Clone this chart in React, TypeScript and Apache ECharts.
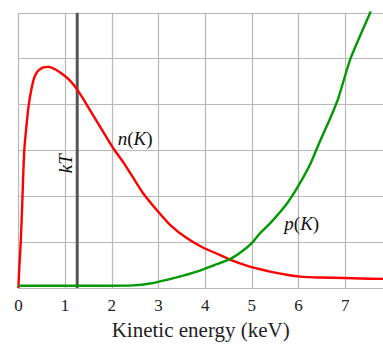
import React, { useEffect, useRef } from "react";
import * as echarts from "echarts";

const xTicks = [0, 1, 2, 3, 4, 5, 6, 7];
const nK: [number, number][] = [
  [0, 0], [0.02, 0.45], [0.049, 0.98], [0.07, 1.5], [0.09, 2.05], [0.108, 2.6], [0.126, 3.0],
  [0.15, 3.3], [0.178, 3.59], [0.21, 3.9], [0.249, 4.17], [0.319, 4.52], [0.37, 4.66],
  [0.426, 4.74], [0.534, 4.81], [0.641, 4.82], [0.784, 4.77], [0.962, 4.65], [1.106, 4.52],
  [1.249, 4.34], [1.427, 4.06], [1.641, 3.7], [1.855, 3.34], [2.05, 3.02], [2.248, 2.74],
  [2.462, 2.4], [2.676, 2.06], [2.963, 1.7], [3.248, 1.38], [3.606, 1.09], [3.962, 0.88],
  [4.32, 0.72], [4.53, 0.62], [4.89, 0.49], [5.18, 0.41], [5.39, 0.36], [5.75, 0.29],
  [6.03, 0.25], [6.46, 0.23], [6.98, 0.22], [7.32, 0.21], [7.81, 0.2],
];
const pK: [number, number][] = [
  [0, 0.05], [1.75, 0.05], [2.46, 0.06], [2.82, 0.1], [3.18, 0.18], [3.53, 0.27],
  [3.89, 0.38], [4.25, 0.52], [4.53, 0.63], [4.75, 0.77], [5.0, 0.98], [5.18, 1.2],
  [5.39, 1.41], [5.75, 1.84], [5.98, 2.2], [6.25, 2.7], [6.46, 3.2], [6.68, 3.7],
  [6.85, 4.13], [7.11, 4.99], [7.53, 5.99], [7.65, 6.3],
];
const kT = 1.26;
const yMax = 6;
const xMax = 7.81;

export default function App() {
  const ref = useRef<HTMLDivElement>(null);
  useEffect(() => {
    if (!ref.current) return;
    const chart = echarts.init(ref.current, undefined, { renderer: "svg" });
    const serif = "Liberation Serif";
    const labelRich = {
      i: { fontFamily: serif, fontStyle: "italic", fontSize: 19, color: "#111" },
      r: { fontFamily: serif, fontSize: 19, color: "#111" },
    };
    chart.setOption({
      animation: false,
      grid: { left: 18.4, right: 0, top: 12.75, bottom: 52.4 },
      xAxis: {
        type: "value",
        min: 0,
        max: xMax,
        interval: 1,
        name: "Kinetic energy (keV)",
        nameLocation: "middle",
        nameGap: 30,
        nameTextStyle: { fontFamily: serif, fontSize: 21, color: "#222" },
        axisLine: { show: false },
        axisTick: { show: false },
        axisLabel: {
          fontFamily: serif,
          fontSize: 17,
          color: "#222",
          margin: 9,
          showMaxLabel: false,
          formatter: (v: number) => (xTicks.includes(v) ? String(v) : ""),
        },
        splitLine: { show: true, showMaxLine: false, lineStyle: { color: "#b8b8b8", width: 1.2 } },
      },
      yAxis: {
        type: "value",
        min: 0,
        max: yMax,
        interval: 1,
        axisLine: { show: false },
        axisTick: { show: false },
        axisLabel: { show: false },
        splitLine: { show: true, lineStyle: { color: "#b8b8b8", width: 1.2 } },
      },
      series: [
        {
          type: "line",
          data: [[kT, 0], [kT, yMax]],
          showSymbol: false,
          lineStyle: { color: "#555555", width: 3 },
          silent: true,
          markPoint: {
            symbol: "circle",
            symbolSize: 0,
            data: [{ coord: [1.0, 2.71] }],
            label: {
              show: true,
              position: "inside",
              rotate: 90,
              formatter: "kT",
              fontFamily: serif,
              fontStyle: "italic",
              fontSize: 19,
              color: "#111",
            },
          },
        },
        {
          type: "line",
          data: nK,
          showSymbol: false,
          smooth: 0.2,
          lineStyle: { color: "#ff0000", width: 2.4, join: "round" },
          markPoint: {
            symbol: "circle",
            symbolSize: 0,
            data: [{ coord: [2.5, 3.25] }],
            label: {
              show: true,
              position: "inside",
              formatter: "{i|n}{r|(}{i|K}{r|)}",
              rich: labelRich,
            },
          },
        },
        {
          type: "line",
          data: pK,
          showSymbol: false,
          smooth: 0.2,
          lineStyle: { color: "#009a00", width: 2.4, join: "round" },
          markPoint: {
            symbol: "circle",
            symbolSize: 0,
            data: [{ coord: [6.07, 1.41] }],
            label: {
              show: true,
              position: "inside",
              formatter: "{i|p}{r|(}{i|K}{r|)}",
              rich: labelRich,
            },
          },
        },
      ],
    });
    return () => chart.dispose();
  }, []);
  return (
    <div
      ref={ref}
      style={{ position: "absolute", left: 0, top: 0, width: 383, height: 345, background: "#fff" }}
    />
  );
}
